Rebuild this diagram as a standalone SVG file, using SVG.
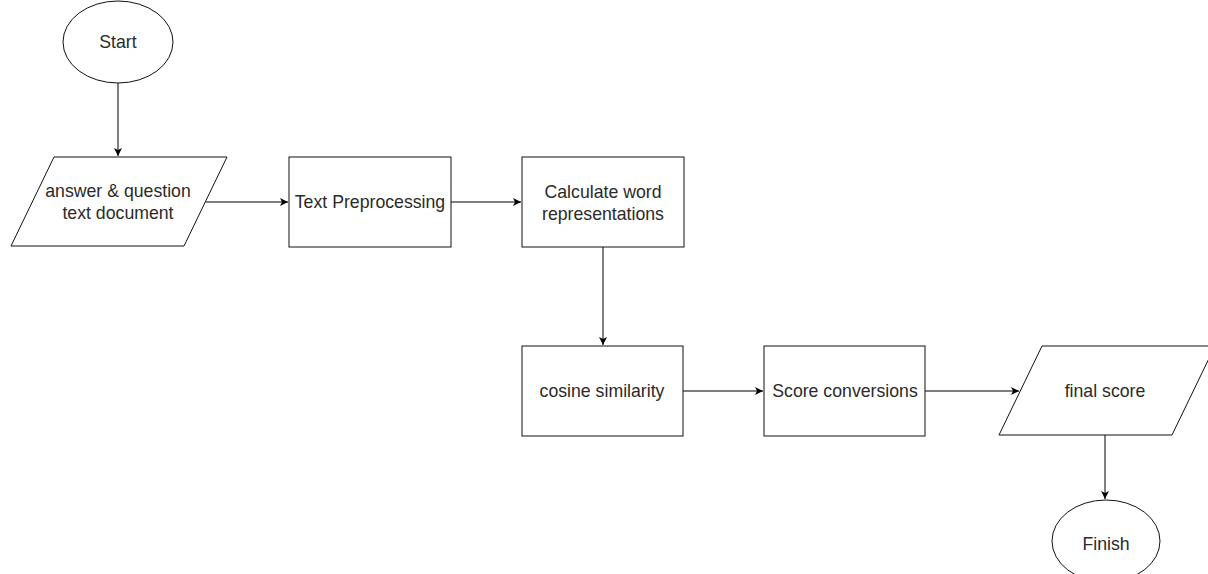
<svg xmlns="http://www.w3.org/2000/svg" width="1208" height="574" viewBox="0 0 1208 574">
<defs>
<marker id="ah" markerWidth="10" markerHeight="10" refX="8" refY="4" orient="auto" markerUnits="userSpaceOnUse">
<path d="M0,0 L8,4 L0,8 L2,4 Z" fill="#000"/>
</marker>
<style>
.shape{fill:#fff;stroke:#111;stroke-width:1}
.lbl{font-family:"Liberation Sans",Arial,sans-serif;font-size:17.7px;fill:#2a2a2a;text-anchor:middle;dominant-baseline:central}
.conn{fill:none;stroke:#000;stroke-width:1;marker-end:url(#ah)}
</style>
</defs>
<rect width="1208" height="574" fill="#fff"/>
<g id="connectors">
<path class="conn" d="M118,83 L118,156"/>
<path class="conn" d="M206,202 L288,202"/>
<path class="conn" d="M451,202 L521,202"/>
<path class="conn" d="M603,247 L603,345"/>
<path class="conn" d="M683,391 L763,391"/>
<path class="conn" d="M925,391 L1019,391"/>
<path class="conn" d="M1105,435 L1105,499"/>
</g>
<g id="start">
<ellipse class="shape" cx="118" cy="42" rx="55" ry="41"/>
<text class="lbl" x="118" y="42">Start</text>
</g>
<g id="input">
<polygon class="shape" points="54,157 227,157 184,246 11,246"/>
<text class="lbl" x="118" y="191">answer &amp; question</text>
<text class="lbl" x="118" y="213">text document</text>
</g>
<g id="preprocessing">
<rect class="shape" x="289" y="157" width="162" height="90"/>
<text class="lbl" x="370" y="202">Text Preprocessing</text>
</g>
<g id="word-repr">
<rect class="shape" x="522" y="157" width="162" height="90"/>
<text class="lbl" x="603" y="192">Calculate word</text>
<text class="lbl" x="603" y="214">representations</text>
</g>
<g id="cosine">
<rect class="shape" x="522" y="346" width="161" height="90"/>
<text class="lbl" x="602" y="391">cosine similarity</text>
</g>
<g id="score-conv">
<rect class="shape" x="764" y="346" width="161" height="90"/>
<text class="lbl" x="845" y="391">Score conversions</text>
</g>
<g id="final">
<polygon class="shape" points="1042,346 1215,346 1172,435 999,435"/>
<text class="lbl" x="1105" y="391">final score</text>
</g>
<g id="finish">
<ellipse class="shape" cx="1106" cy="541" rx="54" ry="41"/>
<text class="lbl" x="1106" y="544">Finish</text>
</g>
</svg>
